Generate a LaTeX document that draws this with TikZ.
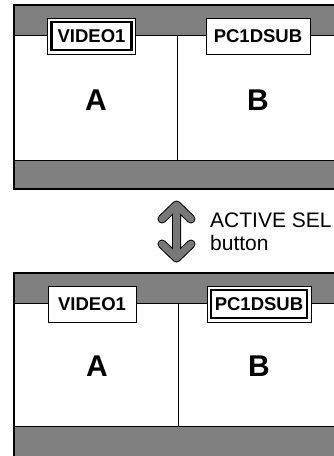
\documentclass[tikz,border=0pt]{standalone}
\usepackage{fontspec}
\setmainfont{Liberation Sans}
\begin{document}
\begin{tikzpicture}[x=1pt,y=-1pt,
  band/.style={fill=black!50},
  frame/.style={draw=black,line width=2.5pt},
  thin/.style={draw=black,line width=0.8pt},
  lab/.style={draw=black,line width=0.8pt,fill=white,minimum height=36pt,inner sep=0pt,
    font=\fontsize{18.5}{22}\selectfont\bfseries},
  inbox/.style={draw=black,line width=2.5pt,minimum height=28pt,inner sep=0pt,
    font=\fontsize{18.5}{22}\selectfont\bfseries},
  big/.style={font=\fontsize{30}{34}\selectfont\bfseries,inner sep=0pt},
  txt/.style={font=\fontsize{21}{24}\selectfont,anchor=base west,inner sep=0pt}]
\useasboundingbox (0,0) rectangle (334,456);
\fill[white] (0,0) rectangle (334,456);
% ---------- top panel ----------
\fill[band] (14,5) rectangle (345,35);
\fill[band] (14,160) rectangle (345,189);
\draw[thin] (14,35) -- (345,35);
\draw[thin] (14,160) -- (345,160);
\draw[thin] (177,35) -- (177,160);
\draw[frame] (14,5) rectangle (345,189);
\node[lab,minimum width=88pt] (tv) at (91.5,36) {};
\node[inbox,minimum width=80pt] (tvt) at (tv.center) {VIDEO1};
\node[lab,minimum width=104pt] (tp) at (258,36) {PC1DSUB};
\node[big] (ta) at (96,100) {A};
\node[big] (tb) at (258,100) {B};
% ---------- arrow ----------
\foreach \w/\c in {9pt/black,7pt/black!53}{
  \draw[line width=\w,draw=\c,line cap=round,line join=round]
    (162,219) -- (176.5,205) -- (191,219)
    (176.5,205) -- (176.5,258)
    (162,244) -- (176.5,258) -- (191,244);
}
\node[txt] (t1) at (210,227) {ACTIVE SEL};
\node[txt] (t2) at (210,250) {button};
% ---------- bottom panel ----------
\fill[band] (14,273) rectangle (345,303);
\fill[band] (14,426) rectangle (345,458);
\draw[thin] (14,303) -- (345,303);
\draw[thin] (14,426) -- (345,426);
\draw[thin] (178,303) -- (178,426);
\draw[frame] (14,273) rectangle (345,458);
\node[lab,minimum width=88pt] (bv) at (92,304) {VIDEO1};
\node[lab,minimum width=104pt] (bp) at (259,304) {};
\node[inbox,minimum width=96pt] (bpt) at (bp.center) {PC1DSUB};
\node[big] (ba) at (97,366) {A};
\node[big] (bb) at (259,366) {B};
\end{tikzpicture}
\end{document}
